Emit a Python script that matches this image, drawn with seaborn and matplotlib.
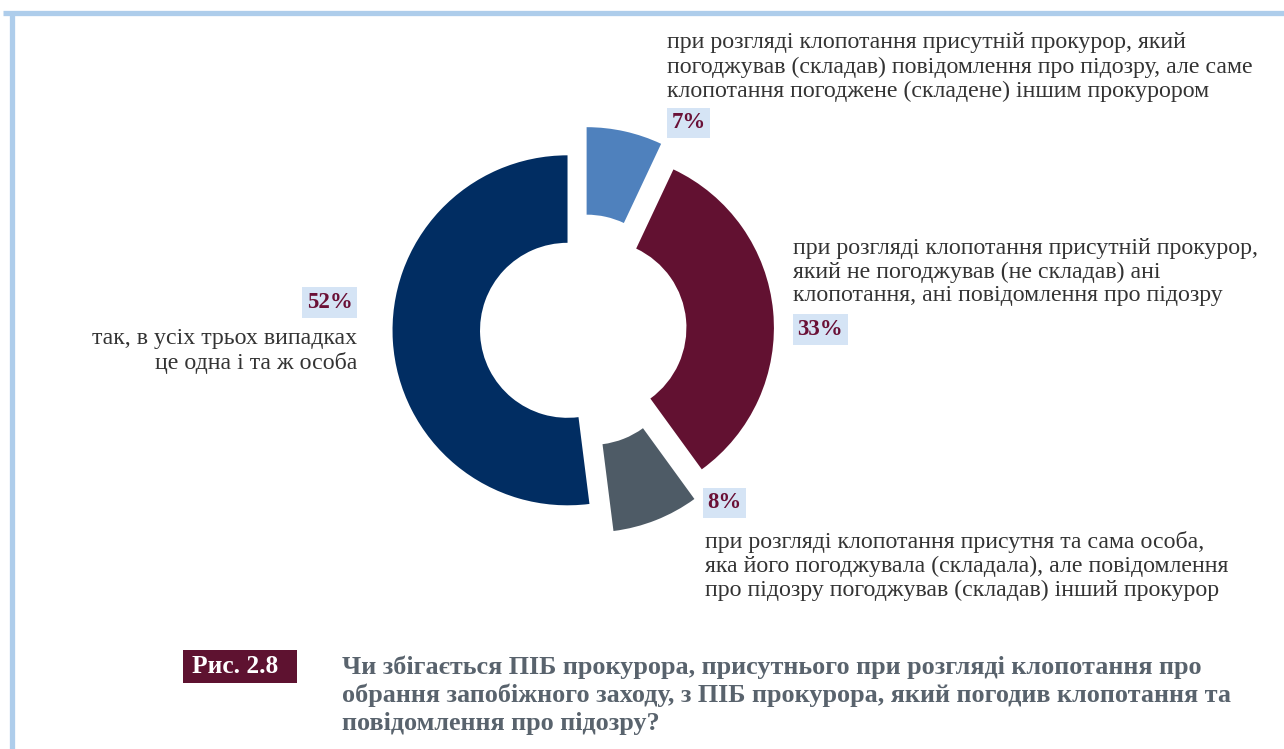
import matplotlib
matplotlib.use("Agg")
import matplotlib.pyplot as plt
from matplotlib.patches import Rectangle
import seaborn as sns

# Shares, listed clockwise from the top of the ring
categories = [
    "при розгляді клопотання присутній прокурор, який\nпогоджував (складав) повідомлення про підозру, але саме\nклопотання погоджене (складене) іншим прокурором",
    "при розгляді клопотання присутній прокурор,\nякий не погоджував (не складав) ані\nклопотання, ані повідомлення про підозру",
    "при розгляді клопотання присутня та сама особа,\nяка його погоджувала (складала), але повідомлення\nпро підозру погоджував (складав) інший прокурор",
    "так, в усіх трьох випадках\nце одна і та ж особа",
]
shares = [7, 33, 8, 52]
palette = ["#4F81BD", "#621131", "#4E5B66", "#012D62"]

fig_label = "Рис. 2.8"
caption = ("Чи збігається ПІБ прокурора, присутнього при розгляді клопотання про\n"
           "обрання запобіжного заходу, з ПІБ прокурора, який погодив клопотання та\n"
           "повідомлення про підозру?")

sns.set_theme(style="white")
plt.rcParams["font.family"] = ["Liberation Serif", "DejaVu Serif"]

W, H = 1284, 749
fig = plt.figure(figsize=(W / 100, H / 100), dpi=100)
ax = fig.add_axes([0, 0, 1, 1])


def py(y):
    """Convert a top-down pixel row to the axes' bottom-up y."""
    return H - y


R = 175
# pull-out distance of each wedge from the ring centre (data units)
offsets = [28, 18.5, 30, 13]
ax.pie(shares, colors=sns.color_palette(palette), startangle=90, counterclock=False,
       explode=offsets, radius=R, center=(580.5, py(329.5)),
       wedgeprops=dict(width=R * 0.5, linewidth=0))
ax.set_xlim(0, W)
ax.set_ylim(0, H)
ax.set_aspect("auto")
ax.axis("off")

# light blue frame along top and left edges
ax.plot([3, W], [py(12.5), py(12.5)], color="#AECDEB", lw=3.8, solid_capstyle="butt")
ax.plot([11.5, 11.5], [py(10.5), 0], color="#AECDEB", lw=3.8, solid_capstyle="butt")

body = dict(color="#333333", fontsize=17.2, linespacing=1.18)
pct = dict(color="#6A1036", fontsize=16.5, fontweight="bold",
           bbox=dict(boxstyle="square,pad=0.2", fc="#D5E4F5", ec="none"))

# 7%
ax.text(667, py(67), categories[0], ha="left", va="center", **body)
ax.text(671.5, py(123), f"{shares[0]}%", ha="left", va="center", **pct)
# 33%
ax.text(793, py(272), categories[1], ha="left", va="center", **body)
ax.text(797.5, py(329.5), f"{shares[1]}%", ha="left", va="center", **pct)
# 8%
ax.text(705, py(566), categories[2], ha="left", va="center", **body)
ax.text(707.5, py(503), f"{shares[2]}%", ha="left", va="center", **pct)
# 52%
ax.text(357, py(351), categories[3], ha="right", va="center", multialignment="right", **body)
ax.text(352.5, py(302.5), f"{shares[3]}%", ha="right", va="center", **pct)

# figure caption
ax.add_patch(Rectangle((183, py(683)), 114, 33, facecolor="#5E1230", edgecolor="none"))
ax.text(192, py(666.5), fig_label, ha="left", va="center", color="white", fontsize=18.3,
        fontweight="bold")
ax.text(342, py(695), caption, ha="left", va="center", color="#59636D", fontsize=18.8,
        fontweight="bold", linespacing=1.25)

fig.savefig("out.png", dpi=100, facecolor="white")
